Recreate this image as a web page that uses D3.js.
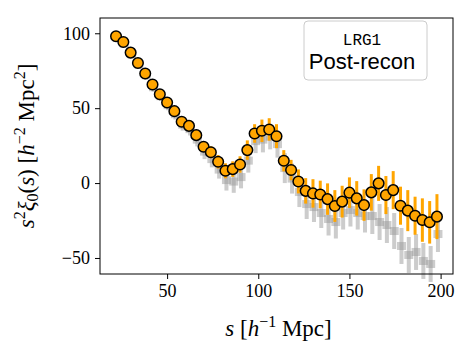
<!DOCTYPE html>
<html>
<head>
<meta charset="utf-8">
<script src="https://cdn.jsdelivr.net/npm/d3@7"></script>
<style>
  body { margin: 0; background: #fff; }
  .axis path, .axis line { stroke: #000; stroke-width: 1; }
</style>
</head>
<body>
<svg id="chart"></svg>
<script>
// separation bins (h^-1 Mpc)
const sBins = [22, 26, 30, 34, 38, 42, 46, 50, 54, 58, 62, 66, 70, 74, 78, 82, 86, 90, 94, 98,
  102, 106, 110, 114, 118, 122, 126, 130, 134, 138, 142, 146, 150, 154, 158, 162, 166, 170,
  174, 178, 182, 186, 190, 194, 198];

// data: s^2 xi_0 and errors
const dataY = [98, 94.2, 87.1, 80.2, 73.1, 65.8, 59.3, 53.8, 48, 40.9, 38.2, 32, 24.2, 20.6,
  14.2, 8.2, 9.3, 12.4, 22, 33.1, 34.9, 35.8, 31.3, 14.9, 8.7, 1.1, -5.2, -6.9, -7.6, -10.7,
  -15.3, -12.4, -6.4, -10.2, -14.7, -6.2, -0.2, -8, -4.7, -15.1, -18.4, -21.8, -24.7, -26.2, -22.4];
const dataErr = [1.5, 1.5, 1.5, 1.7, 1.8, 2, 2, 2.2, 2.4, 2.6, 2.8, 3, 3.5, 4, 4.5, 5, 5.2, 5.5,
  6.5, 6.2, 7.5, 7.5, 8, 7.1, 6.8, 8, 8.5, 9.5, 9.2, 10.5, 10.6, 10.6, 10.2, 11.5, 10.5, 12.2,
  11.7, 12.7, 12.7, 12.7, 13.7, 12.7, 14.5, 14.2, 15];

// mocks (grey)
const mockY = [97, 93, 86, 79, 72, 64, 58, 52, 46, 39, 36, 29, 21, 16, 9, 2, 1, 4, 15, 28,
  29, 31, 26, 10, 3, -6, -14, -16, -20, -24, -26, -20, -18, -20, -22, -22, -26, -28, -32,
  -42, -48, -46, -52, -54, -34];
const mockErr = [2.5, 2.5, 2.5, 2.8, 3, 3, 3.2, 3.4, 3.6, 4, 4.2, 4.5, 5, 5.5, 6, 7, 7.5, 7.5,
  8, 8, 8.5, 8.5, 9, 10, 10, 10, 10, 10, 10, 11, 11, 11, 11, 11, 11, 12, 12, 12, 12, 12,
  12, 12, 12, 12, 12];

const xTicks = [50, 100, 150, 200];
const yTicks = [-50, 0, 50, 100];

const width = 473, height = 355;
const margin = { top: 18, right: 20, bottom: 81, left: 100 };
const plotW = width - margin.left - margin.right;
const plotH = height - margin.top - margin.bottom;
const serif = '"Liberation Serif", "Times New Roman", serif';

const svg = d3.select('#chart')
    .attr('width', width)
    .attr('height', height);

const chart = svg.append('g')
    .attr('transform', `translate(${margin.left},${margin.top})`);

const xScale = d3.scaleLinear()
    .domain([13.2, 206.8])
    .range([0, plotW]);

const yScale = d3.scaleLinear()
    .domain([-60.7, 110.2])
    .range([plotH, 0]);

const data = sBins.map((s, i) => ({ s: s, y: dataY[i], e: dataErr[i], my: mockY[i], me: mockErr[i] }));

// grey mock error bars
chart.append('g')
  .selectAll('line')
  .data(data)
  .join('line')
    .attr('x1', d => xScale(d.s) + 1)
    .attr('x2', d => xScale(d.s) + 1)
    .attr('y1', d => yScale(d.my - d.me))
    .attr('y2', d => yScale(d.my + d.me))
    .attr('stroke', '#9a9a9a')
    .attr('stroke-width', 4)
    .attr('opacity', 0.5);

chart.append('g')
  .selectAll('rect')
  .data(data)
  .join('rect')
    .attr('x', d => xScale(d.s) - 3.5)
    .attr('y', d => yScale(d.my) - 4)
    .attr('width', 9)
    .attr('height', 8)
    .attr('fill', '#9a9a9a')
    .attr('opacity', 0.5);

// orange error bars
chart.append('g')
  .selectAll('line')
  .data(data)
  .join('line')
    .attr('x1', d => xScale(d.s))
    .attr('x2', d => xScale(d.s))
    .attr('y1', d => yScale(d.y - d.e))
    .attr('y2', d => yScale(d.y + d.e))
    .attr('stroke', '#ffa500')
    .attr('stroke-width', 3);

// points
chart.append('g')
  .selectAll('circle')
  .data(data)
  .join('circle')
    .attr('cx', d => xScale(d.s))
    .attr('cy', d => yScale(d.y))
    .attr('r', 5.3)
    .attr('fill', '#ffa500')
    .attr('stroke', '#000')
    .attr('stroke-width', 1.5);

// axes
const xAxis = d3.axisBottom(xScale)
    .tickValues(xTicks)
    .tickSizeOuter(0)
    .tickSize(5)
    .tickPadding(5);

const yAxis = d3.axisLeft(yScale)
    .tickValues(yTicks)
    .tickSizeOuter(0)
    .tickSize(5)
    .tickPadding(5)
    .tickFormat(d => d < 0 ? '\u2212' + Math.abs(d) : d);

chart.append('g')
    .attr('class', 'axis x-axis')
    .attr('transform', `translate(0,${plotH})`)
    .call(xAxis)
    .call(g => g.select('.domain').remove())
    .call(g => g.selectAll('text').attr('font-family', serif).attr('font-size', 18).attr('fill', '#000'));

chart.append('g')
    .attr('class', 'axis y-axis')
    .call(yAxis)
    .call(g => g.select('.domain').remove())
    .call(g => g.selectAll('text').attr('font-family', serif).attr('font-size', 18).attr('fill', '#000'));

// frame
chart.append('rect')
    .attr('width', plotW)
    .attr('height', plotH)
    .attr('fill', 'none')
    .attr('stroke', '#000')
    .attr('stroke-width', 1);

// axis titles
const xt = svg.append('text')
    .attr('x', margin.left + plotW / 2 + 2)
    .attr('y', 336)
    .attr('text-anchor', 'middle')
    .attr('font-family', serif)
    .attr('font-size', 23);
xt.append('tspan').attr('font-style', 'italic').text('s');
xt.append('tspan').text(' [');
xt.append('tspan').attr('font-style', 'italic').text('h');
xt.append('tspan').attr('dy', -9).attr('font-size', 16).text('\u22121');
xt.append('tspan').attr('dy', 9).text(' Mpc]');

const yt = svg.append('text')
    .attr('transform', `translate(34,${margin.top + plotH / 2}) rotate(-90)`)
    .attr('text-anchor', 'middle')
    .attr('font-family', serif)
    .attr('font-size', 23);
yt.append('tspan').attr('font-style', 'italic').text('s');
yt.append('tspan').attr('dy', -9).attr('font-size', 16).text('2');
yt.append('tspan').attr('dy', 9).attr('font-style', 'italic').text('\u03be');
yt.append('tspan').attr('dy', 4).attr('font-size', 16).text('0');
yt.append('tspan').attr('dy', -4).text('(');
yt.append('tspan').attr('font-style', 'italic').text('s');
yt.append('tspan').text(') [');
yt.append('tspan').attr('font-style', 'italic').text('h');
yt.append('tspan').attr('dy', -9).attr('font-size', 16).text('\u22122');
yt.append('tspan').attr('dy', 9).text(' Mpc');
yt.append('tspan').attr('dy', -9).attr('font-size', 16).text('2');
yt.append('tspan').attr('dy', 9).text(']');

// legend box
const lg = svg.append('g');
lg.append('rect')
    .attr('x', 304)
    .attr('y', 21)
    .attr('width', 123)
    .attr('height', 59)
    .attr('rx', 4)
    .attr('fill', '#fff')
    .attr('stroke', '#cccccc')
    .attr('stroke-width', 1);
lg.append('text')
    .attr('x', 362)
    .attr('y', 45)
    .attr('text-anchor', 'middle')
    .attr('font-family', '"Liberation Mono", monospace')
    .attr('font-size', 16)
    .text('LRG1');
lg.append('text')
    .attr('x', 362)
    .attr('y', 69)
    .attr('text-anchor', 'middle')
    .attr('font-family', '"Liberation Sans", Arial, sans-serif')
    .attr('font-size', 22)
    .text('Post-recon');
</script>
</body>
</html>
